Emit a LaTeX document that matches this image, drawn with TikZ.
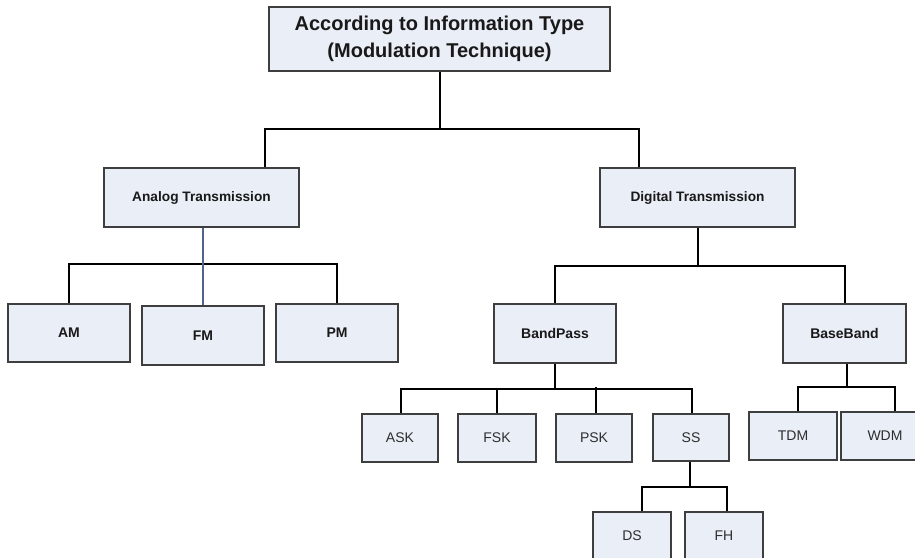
\documentclass[tikz,border=0pt]{standalone}
\usepackage{fontspec}
\setmainfont{Liberation Sans}
\usetikzlibrary{backgrounds}
\definecolor{boxfill}{RGB}{233,238,247}
\definecolor{boxline}{RGB}{62,62,62}
\definecolor{wireblue}{RGB}{78,100,140}
\definecolor{leaftext}{RGB}{45,45,45}
\begin{document}
\begin{tikzpicture}[x=1pt,y=-1pt,
  box/.style={draw=boxline,line width=1.8pt,fill=boxfill,inner sep=0pt,
    anchor=center,align=center,text=black!90},
  headbox/.style={box,font=\fontsize{20}{27.5}\selectfont\bfseries},
  midbox/.style={box,minimum width=195pt,minimum height=59pt,
    font=\fontsize{13.7}{16}\selectfont\bfseries},
  subbox/.style={box,minimum width=122pt,minimum height=58pt,
    font=\fontsize{14}{16}\selectfont\bfseries},
  leafbox/.style={box,minimum width=77pt,minimum height=48pt,
    font=\fontsize{14}{16}\selectfont,text=leaftext},
  wire/.style={line width=2pt,black},
  bluewire/.style={line width=2pt,wireblue}]
\useasboundingbox (0,0) rectangle (915,557);

% ---------- boxes ----------
\node[headbox,minimum width=341pt,minimum height=64pt] (top) at (439.5,39)
  {According to Information Type\\(Modulation Technique)};

\node[midbox] (analog)  at (201.5,197.5) {Analog Transmission};
\node[midbox] (digital) at (697.5,197.5) {Digital Transmission};

\node[subbox] (am) at (69,333)    {AM};
\node[subbox,minimum height=59pt] (fm) at (203,335.5) {FM};
\node[subbox] (pm) at (337,333)   {PM};

\node[subbox,minimum height=59pt] (bandpass) at (555,333.5)   {BandPass};
\node[subbox,minimum height=59pt,minimum width=123pt] (baseband) at (844.5,333.5) {BaseBand};

\node[leafbox,minimum width=76pt] (ask) at (400,438)   {ASK};
\node[leafbox,minimum width=78pt] (fsk) at (497,438)   {FSK};
\node[leafbox,minimum width=76pt] (psk) at (594,438)   {PSK};
\node[leafbox,minimum width=76pt,minimum height=47pt] (ss) at (691,437.5) {SS};

\node[leafbox,minimum width=88pt] (tdm) at (793,436) {TDM};
\node[leafbox,minimum width=88pt] (wdm) at (885,436) {WDM};

\node[leafbox,minimum width=78pt] (ds) at (632,536) {DS};
\node[leafbox,minimum width=78pt] (fh) at (724,536) {FH};

% ---------- connectors, kept behind the boxes ----------
\begin{scope}[on background layer]
  % root to the two transmission kinds
  \draw[wire] (top.south) -- ++(0,57) coordinate (j0);
  \draw[wire] ([xshift=63.5pt]analog.north) |- (j0) -| ([xshift=-58.5pt]digital.north);

  % analog branch
  \draw[wire] (am.north) -- ++(0,-39) coordinate (j1) -| (pm.north);
  \draw[bluewire] ([xshift=1.5pt]analog.south) -- (fm.north);

  % digital branch
  \draw[wire] (digital.south) -- ++(0,38) coordinate (j2);
  \draw[wire] (bandpass.north) |- (j2) -| (baseband.north);

  % band-pass schemes
  \draw[wire] (bandpass.south) -- ++(0,25) coordinate (j3);
  \draw[wire] ([xshift=1pt]ask.north) |- (j3) -| ([xshift=1pt]ss.north);
  \draw[wire] (fsk.north) -- (fsk.north |- j3);
  \draw[wire] ([xshift=2pt]psk.north) -- ++(0,-26);

  % spread spectrum
  \draw[wire] ([xshift=-1pt]ss.south) -- ++(0,25) coordinate (j4);
  \draw[wire] ([xshift=10pt]ds.north) |- (j4) -| ([xshift=3pt]fh.north);

  % baseband multiplexing
  \draw[wire] ([xshift=2.5pt]baseband.south) -- ++(0,23) coordinate (j5);
  \draw[wire] ([xshift=5pt]tdm.north) |- (j5) -| ([xshift=10pt]wdm.north);
\end{scope}
\end{tikzpicture}
\end{document}
